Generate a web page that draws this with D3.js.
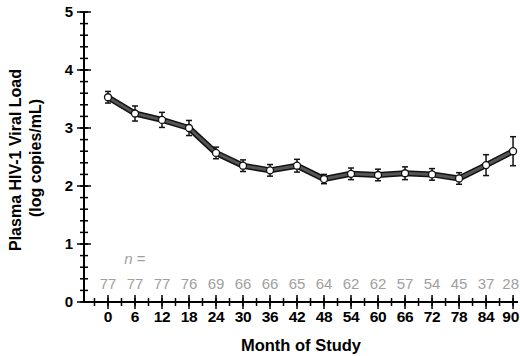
<!DOCTYPE html>
<html>
<head>
<meta charset="utf-8">
<script src="https://cdn.jsdelivr.net/npm/d3@7"></script>
<style>
  body { margin: 0; background: #fff; }
  svg { display: block; font-family: "Liberation Sans", Arial, sans-serif; }
</style>
</head>
<body>
<div id="canvas"></div>
<script>
// data
let months = [0, 6, 12, 18, 24, 30, 36, 42, 48, 54, 60, 66, 72, 78, 84, 90];
let viralLoad = [3.53, 3.25, 3.14, 3.0, 2.57, 2.35, 2.27, 2.35, 2.12, 2.21, 2.19, 2.22, 2.2, 2.13, 2.36, 2.6];
let errs = [0.1, 0.13, 0.13, 0.13, 0.1, 0.1, 0.1, 0.11, 0.08, 0.1, 0.1, 0.11, 0.1, 0.1, 0.18, 0.25];
let nCounts = [77, 77, 77, 76, 69, 66, 66, 65, 64, 62, 62, 57, 54, 45, 37, 28];
let yTicks = [0, 1, 2, 3, 4, 5];

window.onload = function() {
    let width = 520, height = 356;

    let svg = d3.select("#canvas").append("svg")
        .attr("width", width)
        .attr("height", height);

    let x = d3.scaleLinear().domain([-5.33, 91.1]).range([84, 518]);
    let y = d3.scaleLinear().domain([0, 5]).range([302, 12]);

    // y axis line + ticks
    svg.append("line")
        .attr("x1", x(-5.33)).attr("x2", x(-5.33))
        .attr("y1", y(0)).attr("y2", y(5))
        .attr("stroke", "#000").attr("stroke-width", 2);

    let yMinor = d3.range(0, 5.01, 0.2);
    svg.selectAll("line.ymin").data(yMinor).enter().append("line")
        .attr("class", "ymin")
        .attr("x1", 80).attr("x2", 88)
        .attr("y1", d => y(d)).attr("y2", d => y(d))
        .attr("stroke", "#000").attr("stroke-width", 1.5);
    svg.selectAll("line.ymaj").data(yTicks).enter().append("line")
        .attr("class", "ymaj")
        .attr("x1", 77).attr("x2", 91)
        .attr("y1", d => y(d)).attr("y2", d => y(d))
        .attr("stroke", "#000").attr("stroke-width", 1.5);
    svg.selectAll("text.ylab").data(yTicks).enter().append("text")
        .attr("class", "ylab")
        .attr("x", 73).attr("y", d => y(d) + 1)
        .attr("text-anchor", "end")
        .attr("dominant-baseline", "middle")
        .attr("font-size", 15).attr("font-weight", "bold")
        .text(d => d);

    // x axis line + ticks
    svg.append("line")
        .attr("x1", x(-5.33)).attr("x2", 518)
        .attr("y1", y(0)).attr("y2", y(0))
        .attr("stroke", "#000").attr("stroke-width", 2);

    let xMinor = d3.range(-3, 91, 3);
    svg.selectAll("line.xmin").data(xMinor).enter().append("line")
        .attr("class", "xmin")
        .attr("x1", d => x(d)).attr("x2", d => x(d))
        .attr("y1", y(0) - 4).attr("y2", y(0) + 4)
        .attr("stroke", "#000").attr("stroke-width", 1.5);
    svg.selectAll("line.xmaj").data(months).enter().append("line")
        .attr("class", "xmaj")
        .attr("x1", d => x(d)).attr("x2", d => x(d))
        .attr("y1", y(0) - 7).attr("y2", y(0) + 7)
        .attr("stroke", "#000").attr("stroke-width", 1.5);
    svg.selectAll("text.xlab").data(months).enter().append("text")
        .attr("class", "xlab")
        .attr("x", (d, i) => i === months.length - 1 ? 519 : x(d)).attr("y", 322)
        .attr("text-anchor", (d, i) => i === months.length - 1 ? "end" : "middle")
        .attr("font-size", 15.5).attr("font-weight", "bold")
        .attr("letter-spacing", -0.3)
        .text(d => d);

    // axis titles
    svg.append("text")
        .attr("x", 301).attr("y", 351)
        .attr("text-anchor", "middle")
        .attr("font-size", 16.5).attr("font-weight", "bold")
        .text("Month of Study");

    svg.append("text")
        .attr("transform", "translate(21,160) rotate(-90)")
        .attr("text-anchor", "middle")
        .attr("font-size", 16).attr("font-weight", "bold")
        .text("Plasma HIV-1 Viral Load");
    svg.append("text")
        .attr("transform", "translate(41,158) rotate(-90)")
        .attr("text-anchor", "middle")
        .attr("font-size", 16).attr("font-weight", "bold")
        .text("(log copies/mL)");

    // n counts
    svg.append("text")
        .attr("x", x(6)).attr("y", 264)
        .attr("text-anchor", "middle")
        .attr("font-size", 15).attr("fill", "#a0a0a0")
        .html("<tspan font-style='italic'>n</tspan> =");
    svg.selectAll("text.n").data(nCounts).enter().append("text")
        .attr("class", "n")
        .attr("x", (d, i) => i === nCounts.length - 1 ? 519 : x(months[i])).attr("y", 289)
        .attr("text-anchor", (d, i) => i === nCounts.length - 1 ? "end" : "middle")
        .attr("font-size", 15).attr("fill", "#a0a0a0")
        .text(d => d);

    // error bars
    let pts = months.map((m, i) => ({m: m, v: viralLoad[i], e: errs[i]}));
    let eb = svg.selectAll("g.err").data(pts).enter().append("g").attr("class", "err");
    eb.append("line")
        .attr("x1", d => x(d.m)).attr("x2", d => x(d.m))
        .attr("y1", d => y(d.v + d.e)).attr("y2", d => y(d.v - d.e))
        .attr("stroke", "#111").attr("stroke-width", 1.5);
    eb.append("line")
        .attr("x1", d => x(d.m) - 3).attr("x2", d => x(d.m) + 3)
        .attr("y1", d => y(d.v + d.e)).attr("y2", d => y(d.v + d.e))
        .attr("stroke", "#111").attr("stroke-width", 1.5);
    eb.append("line")
        .attr("x1", d => x(d.m) - 3).attr("x2", d => x(d.m) + 3)
        .attr("y1", d => y(d.v - d.e)).attr("y2", d => y(d.v - d.e))
        .attr("stroke", "#111").attr("stroke-width", 1.5);

    // thick outlined line
    let line = d3.line().x(d => x(d.m)).y(d => y(d.v));
    svg.append("path").datum(pts)
        .attr("d", line)
        .attr("fill", "none").attr("stroke", "#111")
        .attr("stroke-width", 6).attr("stroke-linejoin", "round");
    svg.append("path").datum(pts)
        .attr("d", line)
        .attr("fill", "none").attr("stroke", "#555")
        .attr("stroke-width", 3).attr("stroke-linejoin", "round");

    // markers
    svg.selectAll("circle.pt").data(pts).enter().append("circle")
        .attr("class", "pt")
        .attr("cx", d => x(d.m)).attr("cy", d => y(d.v))
        .attr("r", 3.5)
        .attr("fill", "#fff").attr("stroke", "#111").attr("stroke-width", 1.3);
};
</script>
</body>
</html>
